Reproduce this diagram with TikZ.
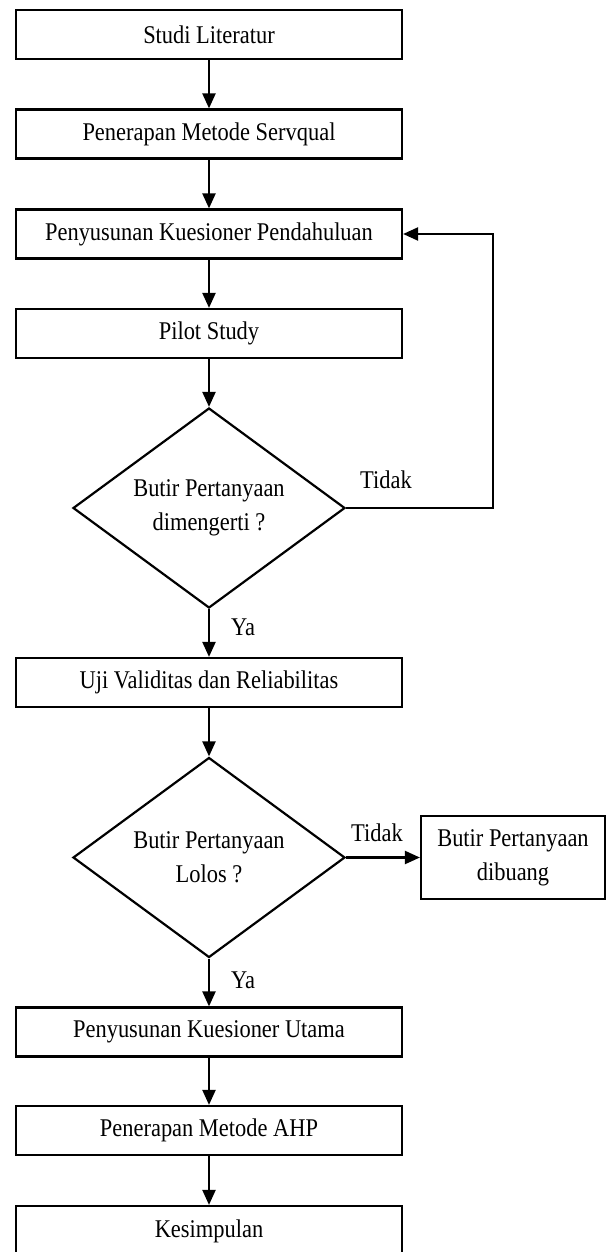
\documentclass[tikz,border=0pt]{standalone}
\usepackage{fontspec}
\setmainfont{Liberation Serif}[FakeStretch=0.88]
\usetikzlibrary{shapes.geometric,arrows.meta}
\begin{document}
\begin{tikzpicture}[x=1pt,y=-1pt,
  every node/.style={font=\fontsize{25.5}{34}\selectfont},
  procbox/.style={draw,line width=2.2pt,minimum width=386pt,minimum height=49pt,inner sep=0pt,anchor=center},
  decision/.style={draw,line width=2.2pt,diamond,aspect=1.36,minimum width=272pt,minimum height=200pt,inner sep=0pt,align=center},
  flow/.style={line width=2.2pt,-{Triangle[width=13pt,length=15pt]}},
  lbl/.style={inner sep=0pt}]
\useasboundingbox (0,0) rectangle (606,1252);
\clip (0,0) rectangle (606,1252);
\node[procbox] (b1) at (209,34.5) {Studi Literatur};
\node[procbox] (b2) at (209,134) {Penerapan Metode Servqual};
\node[procbox] (b3) at (209,234) {Penyusunan Kuesioner Pendahuluan};
\node[procbox] (b4) at (209,333.5) {Pilot Study};
\node[decision] (d1) at (209,508) {Butir Pertanyaan\\dimengerti ?};
\node[procbox] (b5) at (209,682.5) {Uji Validitas dan Reliabilitas};
\node[decision] (d2) at (209,857.5) {Butir Pertanyaan\\Lolos ?};
\node[draw,line width=2.2pt,minimum width=184pt,minimum height=83pt,inner sep=0pt,align=center] (dib) at (513,857.5) {Butir Pertanyaan\\dibuang};
\node[procbox] (b6) at (209,1032) {Penyusunan Kuesioner Utama};
\node[procbox] (b7) at (209,1130.5) {Penerapan Metode AHP};
\node[procbox,minimum height=50pt] (b8) at (209,1231) {Kesimpulan};
\coordinate (lp) at (493,508);
\draw[flow] (b1) -- (b2);
\draw[flow] (b2) -- (b3);
\draw[flow] (b3) -- (b4);
\draw[flow] (b4) -- (d1);
\draw[flow] (d1.east) -- (lp) |- (b3.east);
\draw[flow] (d1) -- (b5);
\draw[flow] (b5) -- (d2);
\draw[flow] (d2.east) -- (dib.west);
\draw[flow] (d2) -- (b6);
\draw[flow] (b6) -- (b7);
\draw[flow] (b7) -- (b8);
\node[lbl] (t1) at (386,480) {Tidak};
\node[lbl] (y1) at (243,627) {Ya};
\node[lbl] (t2) at (377,833) {Tidak};
\node[lbl] (y2) at (243,980) {Ya};
\end{tikzpicture}
\end{document}
